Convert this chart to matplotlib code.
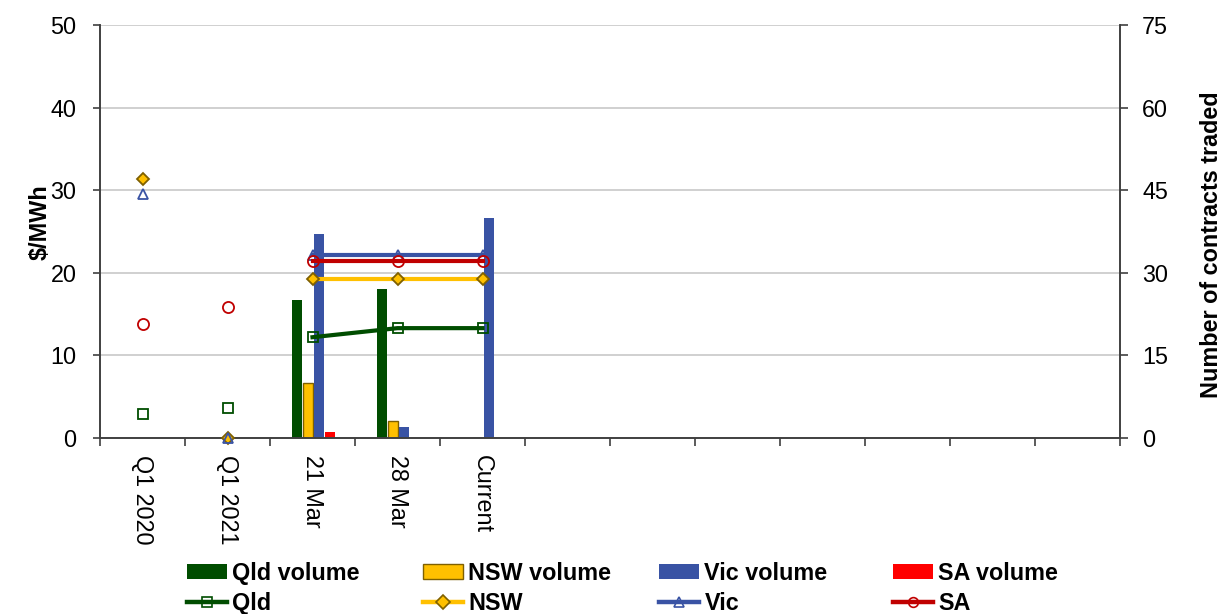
import numpy as np
import matplotlib
matplotlib.use("Agg")
import matplotlib.pyplot as plt
from matplotlib.patches import Patch
from matplotlib.lines import Line2D

plt.rcParams['font.family'] = ['Liberation Sans', 'DejaVu Sans']

# ---- data ----
categories = ["Q1 2020", "Q1 2021", "21 Mar", "28 Mar", "Current",
              "", "", "", "", "", "", ""]
# volumes (right axis, number of contracts) for 21 Mar, 28 Mar, Current
vol_cats = ["21 Mar", "28 Mar", "Current"]
qld_vol = [25, 27, 0]
nsw_vol = [10, 3, 0]
vic_vol = [37, 2, 40]
sa_vol = [1, 0, 0]
# prices ($/MWh) for Q1 2020, Q1 2021, 21 Mar, 28 Mar, Current
price_cats = ["Q1 2020", "Q1 2021", "21 Mar", "28 Mar", "Current"]
qld_price = [2.9, 3.6, 12.2, 13.3, 13.3]
nsw_price = [31.3, 0.0, 19.2, 19.2, 19.2]
vic_price = [29.5, 0.0, 22.1, 22.1, 22.1]
sa_price = [13.8, 15.8, 21.4, 21.4, 21.4]

left_ticks = [0, 10, 20, 30, 40, 50]
right_ticks = [0, 15, 30, 45, 60, 75]

# ---- style ----
c_qld = "#004D00"
c_nsw = "#FFC000"
c_vic = "#3953A4"
c_sa_bar = "#FF0000"
c_sa = "#C00000"
spine_c = "#404040"
fs = 16.8

W, H = 1232, 614
fig = plt.figure(figsize=(W / 100, H / 100), dpi=100)
x0, x1, ytop, ybot = 100, 1120, 25, 438
axv = fig.add_axes([x0 / W, 1 - ybot / H, (x1 - x0) / W, (ybot - ytop) / H])  # volumes (right)
axp = axv.twinx()  # prices
axp.set_zorder(axv.get_zorder() + 1)
axp.patch.set_visible(False)

ncat = len(categories)
xpos = np.arange(ncat)
cat_index = {c: i for i, c in enumerate(categories) if c}

axv.set_xlim(-0.5, ncat - 0.5)
axv.set_ylim(0, 75)
axv.yaxis.tick_right()
axv.set_yticks(right_ticks)
axv.yaxis.grid(True, color="#C8C8C8", linewidth=1.2)
axv.set_axisbelow(True)

axp.set_ylim(0, 50)
axp.yaxis.tick_left()
axp.set_yticks(left_ticks)

# bars
bw = 0.118
step = 0.13
vx = np.array([cat_index[c] for c in vol_cats], dtype=float)
bar_series = [(qld_vol, c_qld, "none", 0), (nsw_vol, c_nsw, "#7F6000", 1.0),
              (vic_vol, c_vic, "none", 0), (sa_vol, c_sa_bar, "none", 0)]
for i, (vals, col, ec, lw) in enumerate(bar_series):
    axv.bar(vx + (i - 1.5) * step + 0.015, vals, width=bw, color=col,
            edgecolor=ec, linewidth=lw, zorder=2)

# price lines
px = np.array([cat_index[c] for c in price_cats], dtype=float)
line_series = [
    (qld_price, c_qld, "s", "none", c_qld, 7.5),
    (nsw_price, c_nsw, "D", c_nsw, "#7F6000", 6.5),
    (vic_price, c_vic, "^", "none", c_vic, 7.5),
    (sa_price, c_sa, "o", "none", c_sa, 8),
]
for vals, col, mk, mfc, mec, ms in line_series:
    vals = np.array(vals)
    axp.plot(px[2:], vals[2:], color=col, linewidth=3.0, marker=mk, markersize=ms,
             markerfacecolor=mfc, markeredgecolor=mec, markeredgewidth=1.3,
             zorder=3, clip_on=False)
    axp.plot(px[:2], vals[:2], linestyle="none", marker=mk, markersize=ms,
             markerfacecolor=mfc, markeredgecolor=mec, markeredgewidth=1.3,
             zorder=3, clip_on=False)

# x axis
axv.set_xticks(xpos)
axv.set_xticklabels(categories, rotation=270, fontsize=fs, va="top", ha="center")
axv.set_xticks(np.arange(ncat + 1) - 0.5, minor=True)
axv.tick_params(axis="x", which="major", length=0, pad=12)
axv.tick_params(axis="x", which="minor", length=6, width=1.2, color=spine_c)
axv.tick_params(axis="y", which="major", length=6, width=1.2, color=spine_c,
                labelsize=fs, pad=10)
axp.tick_params(axis="y", which="major", length=5, width=1.2, color=spine_c,
                labelsize=fs, pad=12)
axp.tick_params(axis="x", length=0, labelbottom=False)

for ax in (axv, axp):
    ax.spines["top"].set_visible(False)
    for s in ("left", "right", "bottom"):
        ax.spines[s].set_color(spine_c)
        ax.spines[s].set_linewidth(1.2)

# axis titles
fig.text(40 / W, 1 - 222 / H, "$/MWh", rotation=90, ha="center", va="center",
         fontsize=fs, fontweight="bold")
fig.text(1212 / W, 1 - 245 / H, "Number of contracts traded", rotation=90,
         ha="center", va="center", fontsize=fs, fontweight="bold")

# legend: four columns, each bar + line
leg_cols = [
    ("Qld volume", "Qld", c_qld, "none", c_qld, "s", "none", c_qld),
    ("NSW volume", "NSW", c_nsw, "#7F6000", c_nsw, "D", c_nsw, "#7F6000"),
    ("Vic volume", "Vic", c_vic, "none", c_vic, "^", "none", c_vic),
    ("SA volume", "SA", c_sa_bar, "none", c_sa, "o", "none", c_sa),
]
col_x = [187, 423, 659, 893]
for (bl, ll, bc, bec, lc, mk, mfc, mec), cx in zip(leg_cols, col_x):
    hb = Patch(facecolor=bc, edgecolor=bec, linewidth=1.0 if bec != "none" else 0)
    hl = Line2D([], [], color=lc, linewidth=3.2, marker=mk, markersize=7,
                markerfacecolor=mfc, markeredgecolor=mec, markeredgewidth=1.2)
    fig.legend(handles=[hb, hl], labels=[bl, ll], loc="upper left",
               bbox_to_anchor=(cx / W, 1 - 562 / H), frameon=False,
               prop={"size": fs, "weight": "bold"}, borderpad=0, borderaxespad=0,
               handlelength=1.7, handletextpad=0.25, labelspacing=0.28,
               handleheight=0.6, numpoints=1)

fig.savefig("out.png", dpi=100)
